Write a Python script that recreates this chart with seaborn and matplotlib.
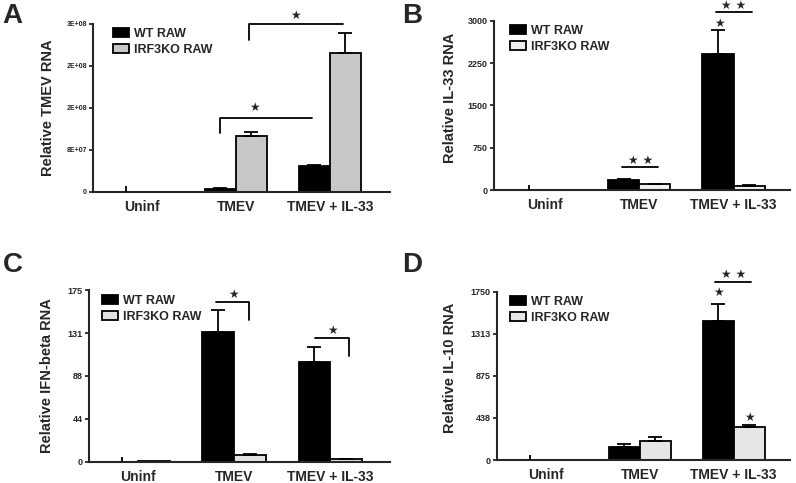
import numpy as np
import pandas as pd
import matplotlib
matplotlib.use("Agg")
import matplotlib.pyplot as plt
import seaborn as sns
from matplotlib.patches import Patch

# ---------------- data ----------------
categories = ["Uninf", "TMEV", "TMEV + IL-33"]
groups = ["WT RAW", "IRF3KO RAW"]

a_wt = [0, 5.0e6, 4.95e7]
a_wt_err = [1.1e7, 2.0e6, 2.0e6]
a_ko = [0, 1.07e8, 2.64e8]
a_ko_err = [0, 8.0e6, 3.8e7]
a_yticks = [0, 8e7, 1.6e8, 2.4e8, 3.2e8]
a_yticklabels = ["0", "8E+07", "2E+08", "2E+08", "3E+08"]

b_wt = [0, 170, 2408]
b_wt_err = [85, 20, 432]
b_ko = [0, 100, 76]
b_ko_err = [0, 10, 8]
b_yticks = [0, 750, 1500, 2250, 3000]
b_yticklabels = ["0", "750", "1500", "2250", "3000"]

c_wt = [0, 132, 101.4]
c_wt_err = [5, 22.6, 15.6]
c_ko = [1.0, 7.0, 3.0]
c_ko_err = [0, 1.0, 0.5]
c_yticks = [0, 44, 88, 131, 175]
c_yticklabels = ["0", "44", "88", "131", "175"]

d_wt = [0, 139, 1451]
d_wt_err = [50, 28, 174]
d_ko = [0, 198, 340]
d_ko_err = [0, 45, 25]
d_yticks = [0, 438, 875, 1313, 1750]
d_yticklabels = ["0", "438", "875", "1313", "1750"]

# ---------------- style ----------------
sns.set_style("ticks")
plt.rcParams["font.family"] = ["Liberation Sans", "DejaVu Sans"]
plt.rcParams["font.weight"] = "bold"

W, H = 796, 483
fig = plt.figure(figsize=(W / 100, H / 100), dpi=100)
fig.patch.set_facecolor("white")

LW = 1.3
STAR = "\u2605"


def px(x, y):
    return x / W, 1 - y / H


def panel(rect, wt, wt_err, ko, ko_err, ko_color, yticks, yticklabels,
          xlim, ylabel, ylab_xy, letter, letter_xy, leg_anchor, ytick_fs):
    ax = fig.add_axes(rect)
    df = pd.DataFrame({
        "cat": categories * 2,
        "group": [groups[0]] * 3 + [groups[1]] * 3,
        "val": list(wt) + list(ko),
    })
    sns.barplot(data=df, x="cat", y="val", hue="group", order=categories,
                hue_order=groups, palette=["black", ko_color], width=0.66,
                edgecolor="black", linewidth=LW, errorbar=None, legend=False,
                ax=ax, saturation=1)
    errs = [wt_err, ko_err]
    for cont, err in zip(ax.containers, errs):
        for bar, e in zip(cont, err):
            xc = bar.get_x() + bar.get_width() / 2
            h = bar.get_height()
            if e <= 0:
                continue
            ax.errorbar([xc], [h], yerr=[[0], [e]], fmt="none", ecolor="black",
                        elinewidth=LW, capsize=5 if h > 0 else 0,
                        capthick=LW, zorder=4, clip_on=False)
    ax.set_xlim(*xlim)
    ax.set_ylim(0, yticks[-1])
    ax.set_yticks(yticks)
    ax.set_yticklabels(yticklabels, fontsize=ytick_fs, fontweight="bold")
    ax.set_xlabel("")
    ax.set_ylabel("")
    ax.tick_params(axis="x", length=0, pad=6, labelsize=10)
    for lab in ax.get_xticklabels():
        lab.set_fontweight("bold")
    ax.tick_params(axis="y", length=3, width=LW, pad=1.5, direction="out")
    for s in ["top", "right"]:
        ax.spines[s].set_visible(False)
    for s in ["left", "bottom"]:
        ax.spines[s].set_linewidth(LW * 1.15)
    ax.set_facecolor("white")
    handles = [Patch(facecolor="black", edgecolor="black", linewidth=LW),
               Patch(facecolor=ko_color, edgecolor="black", linewidth=LW)]
    ax.legend(handles, groups, loc="upper left", bbox_to_anchor=leg_anchor,
              frameon=False, borderpad=0, borderaxespad=0, handlelength=1.25,
              handleheight=0.7, handletextpad=0.4, labelspacing=0.3,
              prop={"weight": "bold", "size": 9})
    fx, fy = px(*ylab_xy)
    fig.text(fx, fy, ylabel, rotation=90, ha="center", va="center",
             fontsize=10.5, fontweight="bold")
    lx, ly = px(*letter_xy)
    fig.text(lx, ly, letter, ha="center", va="center", fontsize=20,
             fontweight="bold")
    return ax


def bracket(ax, xs, ys):
    ax.plot(xs, ys, color="black", lw=LW, clip_on=False, zorder=5)


def star(ax, x, y, s=STAR):
    ax.text(x, y, s, ha="center", va="center", fontsize=8.5,
            family="DejaVu Sans", clip_on=False, zorder=6)


# Panel A
axA = panel([0.117, 0.6025, 0.373, 0.348], a_wt, a_wt_err, a_ko, a_ko_err,
            "#c8c8c8", a_yticks, a_yticklabels, (-0.52, 2.64),
            "Relative TMEV RNA", (48, 108), "A", (12.5, 16), (0.067, 0.976), 5)
bracket(axA, [0.835, 0.835, 1.81], [1.12e8, 1.41e8, 1.41e8])
star(axA, 1.2, 1.6e8)
bracket(axA, [1.14, 1.14, 2.14], [2.9e8, 3.2e8, 3.2e8])
star(axA, 1.63, 3.37e8)

# Panel B
axB = panel([0.6206, 0.6066, 0.372, 0.35], b_wt, b_wt_err, b_ko, b_ko_err,
            "#f0f0f0", b_yticks, b_yticklabels, (-0.54, 2.6),
            "Relative IL-33 RNA", (450, 98), "B", (412.5, 16), (0.054, 0.976), 6.5)
bracket(axB, [0.82, 1.2], [408, 408])
star(axB, 1.01, 532, STAR + " " + STAR)
bracket(axB, [1.81, 2.2], [3160, 3160])
star(axB, 2.0, 3280, STAR + " " + STAR)
star(axB, 1.85, 2964)

# Panel C
axC = panel([0.1118, 0.0435, 0.378, 0.356], c_wt, c_wt_err, c_ko, c_ko_err,
            "#e2e2e2", c_yticks, c_yticklabels, (-0.51, 2.62),
            "Relative IFN-beta RNA", (47, 376), "C", (12.5, 265), (0.043, 0.97), 6.5)
bracket(axC, [0.81, 1.15, 1.15], [162.8, 162.8, 144.5])
star(axC, 0.99, 170.5)
bracket(axC, [1.84, 2.19, 2.19], [126.5, 126.5, 107.8])
star(axC, 2.02, 134)

# Panel D
axD = panel([0.6244, 0.0476, 0.368, 0.348], d_wt, d_wt_err, d_ko, d_ko_err,
            "#e6e6e6", d_yticks, d_yticklabels, (-0.52, 2.6),
            "Relative IL-10 RNA", (450, 368), "D", (412.5, 265), (0.044, 0.976), 6.5)
bracket(axD, [1.8, 2.19], [1854, 1854])
star(axD, 2.0, 1935, STAR + " " + STAR)
star(axD, 1.84, 1740)
star(axD, 2.17, 448)

fig.savefig("out.png", dpi=100, facecolor="white")
